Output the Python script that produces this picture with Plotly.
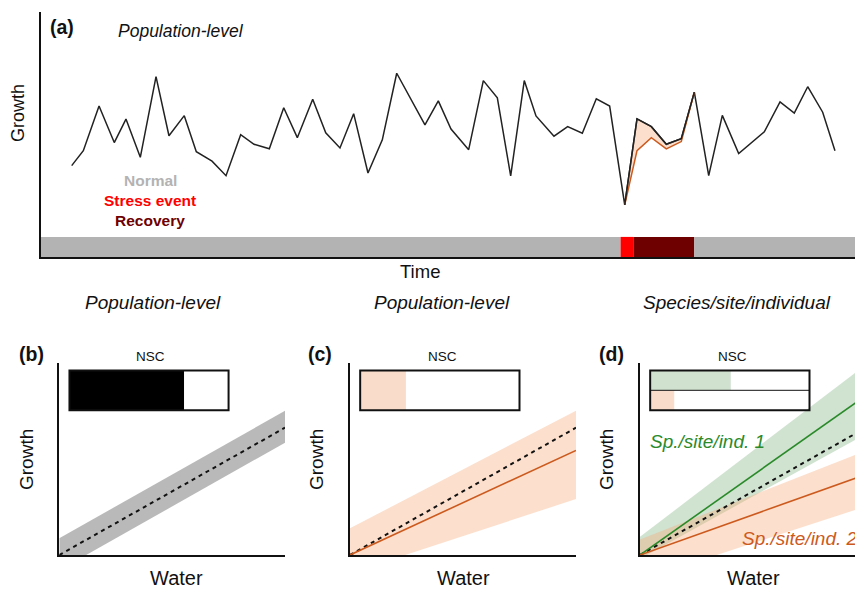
import plotly.graph_objects as go

W, H = 855, 592

# ---------------- Panel (a) data ----------------
time = [3.77, 5.20, 7.13, 9.00, 10.44, 12.20, 14.13, 15.72, 17.60, 19.08,
        21.01, 22.73, 24.53, 26.17, 28.05, 29.82, 31.49, 33.38, 34.98, 36.73,
        38.41, 40.17, 41.93, 43.70, 47.17, 48.81, 50.37, 52.54, 54.34, 56.06,
        57.70, 59.37, 60.81, 63.02, 64.70, 66.50, 68.22, 69.86, 71.71, 73.22,
        74.98, 76.82, 78.66, 80.26, 82.03, 83.70, 85.71, 87.22, 88.86, 90.79,
        92.54, 94.19, 96.03, 97.54]
growth = [37.3, 43.4, 61.6, 46.7, 56.3, 40.7, 73.6, 49.5, 57.7, 43.0,
          39.1, 33.2, 49.9, 46.0, 44.2, 60.9, 48.7, 64.4, 50.7, 44.5,
          58.5, 34.3, 47.8, 75.0, 53.9, 63.7, 52.2, 43.8, 72.0, 65.0,
          33.1, 72.0, 57.6, 49.3, 53.2, 50.5, 64.6, 61.6, 21.3, 56.4,
          53.2, 46.0, 48.3, 67.3, 33.2, 57.8, 42.2, 46.5, 51.1, 63.3,
          58.7, 69.5, 59.1, 43.4]
stress_time = [71.71, 73.22, 74.98, 76.82, 78.66, 80.26]
stress_expected = [21.3, 56.4, 53.2, 46.0, 48.3, 67.3]
stress_growth = [21.3, 43.4, 48.7, 44.1, 47.1, 67.3]

period_labels = ["Normal", "Stress event", "Recovery", "Normal"]
period_start = [0.0, 71.2, 72.77, 80.26]
period_end = [71.2, 72.77, 80.26, 100.0]
bar_height = 8.2

# ---------------- Panels (b)-(d) data ----------------
water = [0.0, 1.0]
reference = [0.0, 0.662]
b_upper = [0.087, 0.750]
b_lower = [-0.079, 0.584]
c_mean = [0.0, 0.544]
c_upper = [0.139, 0.750]
c_lower = [-0.094, 0.291]
d1_mean = [0.0, 0.83]
d1_upper = [0.095, 0.99]
d1_lower = [-0.02, 0.63]
d2_mean = [0.0, 0.419]
d2_upper = [0.08, 0.543]
d2_lower = [-0.13, 0.253]
nsc_b = 0.72
nsc_c = 0.287
nsc_d1 = 0.506
nsc_d2 = 0.151

# ---------------- styles ----------------
FONT = "Liberation Sans, Arial, sans-serif"
PERIOD_COLORS = {"Normal": "#b3b3b3", "Stress event": "#ff0000", "Recovery": "#6e0000"}
PEACH = "rgba(246,170,120,0.38)"
ORANGE = "#cc5a1e"
GREEN = "#2a8a2a"
GREEN_BAND = "rgba(100,160,100,0.3)"
GRAY_BAND = "#b9b9b9"
DOT = "4px,4px"


def px(x):
    return x / W


def py(y):
    return 1 - y / H


fig = go.Figure()

# Panel (a)
fig.add_trace(go.Scatter(x=time, y=growth, mode="lines",
                         line=dict(color="#222", width=1.5), xaxis="x", yaxis="y",
                         showlegend=False, hoverinfo="skip"))
fig.add_trace(go.Scatter(x=stress_time, y=stress_expected, mode="lines",
                         line=dict(color="rgba(0,0,0,0)", width=0), xaxis="x", yaxis="y",
                         showlegend=False, hoverinfo="skip"))
fig.add_trace(go.Scatter(x=stress_time, y=stress_growth, mode="lines",
                         line=dict(color=ORANGE, width=1.5), fill="tonexty", fillcolor=PEACH,
                         xaxis="x", yaxis="y", showlegend=False, hoverinfo="skip"))
# redraw black segment on top
fig.add_trace(go.Scatter(x=stress_time, y=stress_expected, mode="lines",
                         line=dict(color="#222", width=1.5), xaxis="x", yaxis="y",
                         showlegend=False, hoverinfo="skip"))


def band(ax, ay, lower, upper, color):
    fig.add_trace(go.Scatter(x=water, y=lower, mode="lines", line=dict(width=0, color="rgba(0,0,0,0)"),
                             xaxis=ax, yaxis=ay, showlegend=False, hoverinfo="skip"))
    fig.add_trace(go.Scatter(x=water, y=upper, mode="lines", line=dict(width=0, color="rgba(0,0,0,0)"),
                             fill="tonexty", fillcolor=color,
                             xaxis=ax, yaxis=ay, showlegend=False, hoverinfo="skip"))


def line(ax, ay, yv, color, dash=None, width=1.6):
    fig.add_trace(go.Scatter(x=water, y=yv, mode="lines",
                             line=dict(color=color, width=width, dash=dash),
                             xaxis=ax, yaxis=ay, showlegend=False, hoverinfo="skip"))


# Panel (b)
band("x2", "y2", b_lower, b_upper, GRAY_BAND)
line("x2", "y2", reference, "#111", DOT, 2)
# Panel (c)
band("x3", "y3", c_lower, c_upper, PEACH)
line("x3", "y3", reference, "#111", DOT, 2)
line("x3", "y3", c_mean, ORANGE)
# Panel (d)
band("x4", "y4", d1_lower, d1_upper, GREEN_BAND)
band("x4", "y4", d2_lower, d2_upper, PEACH)
line("x4", "y4", reference, "#111", DOT, 2)
line("x4", "y4", d1_mean, GREEN)
line("x4", "y4", d2_mean, ORANGE)

shapes = []
for lab, s, e in zip(period_labels, period_start, period_end):
    shapes.append(dict(type="rect", xref="x", yref="y", x0=s, x1=e, y0=0, y1=bar_height,
                       fillcolor=PERIOD_COLORS[lab], line=dict(width=0), layer="below"))

BX0, BX1, BY0, BY1 = 0.045, 0.75, 0.753, 0.96


def nsc_box(ax, ay, fracs, colors):
    n = len(fracs)
    hgt = (BY1 - BY0) / n
    for i, (f, c) in enumerate(zip(fracs, colors)):
        y1 = BY1 - i * hgt
        y0 = y1 - hgt
        shapes.append(dict(type="rect", xref=ax, yref=ay, x0=BX0, x1=BX0 + f * (BX1 - BX0),
                           y0=y0, y1=y1, fillcolor=c, line=dict(width=0), layer="above"))
        if i > 0:
            shapes.append(dict(type="line", xref=ax, yref=ay, x0=BX0, x1=BX1, y0=y1, y1=y1,
                               line=dict(color="#111", width=1), layer="above"))
    shapes.append(dict(type="rect", xref=ax, yref=ay, x0=BX0, x1=BX1, y0=BY0, y1=BY1,
                       fillcolor="rgba(0,0,0,0)", line=dict(color="#111", width=2), layer="above"))


nsc_box("x2", "y2", [nsc_b], ["#000000"])
nsc_box("x3", "y3", [nsc_c], ["#fadcca"])
nsc_box("x4", "y4", [nsc_d1, nsc_d2], ["#d0e1d0", "#fadcca"])

ann = []


def text(x, y, s, size, color="#111", bold=False, italic=False, angle=0, anchor="center"):
    t = s
    if bold:
        t = "<b>" + t + "</b>"
    if italic:
        t = "<i>" + t + "</i>"
    ann.append(dict(x=px(x), y=py(y), xref="paper", yref="paper", text=t, showarrow=False,
                    textangle=angle, xanchor=anchor, yanchor="middle",
                    font=dict(family=FONT, size=size, color=color)))


text(62, 27, "(a)", 19.5, bold=True)
text(181, 31, "Population-level", 17.5, italic=True)
text(18, 113, "Growth", 18, angle=-90)
text(420, 271, "Time", 18.5)
text(150, 180, "Normal", 15.5, color=PERIOD_COLORS["Normal"], bold=True)
text(150, 201, "Stress event", 15.5, color=PERIOD_COLORS["Stress event"], bold=True)
text(150, 221, "Recovery", 15.5, color=PERIOD_COLORS["Recovery"], bold=True)

text(153, 302, "Population-level", 19, italic=True)
text(442, 302, "Population-level", 19, italic=True)
text(737, 302, "Species/site/individual", 19, italic=True)

for lab, lx, gx, wx, nx in [("(b)", 31, 27, 176, 150), ("(c)", 320, 317, 463, 442),
                            ("(d)", 611, 607, 753, 732)]:
    text(lx, 354, lab, 19.5, bold=True)
    text(gx, 460, "Growth", 19, angle=-90)
    text(wx, 578, "Water", 20)
    text(nx, 356, "NSC", 13.5)

text(648, 441, "Sp./site/ind. 1", 19, color=GREEN, italic=True, anchor="left")
text(740, 538, "Sp./site/ind. 2", 19, color=ORANGE, italic=True, anchor="left")


def axis(domain, rng):
    return dict(domain=domain, range=rng, showline=True, linecolor="#111", linewidth=2,
                showgrid=False, zeroline=False, showticklabels=False, ticks="", fixedrange=True)


xa = axis([px(41), 1], [0, 100])
ya = axis([py(257), py(12)], [0, 100])
yb = [py(555), py(362.7)]

layout = dict(
    width=W, height=H, autosize=False,
    margin=dict(l=0, r=0, t=0, b=0),
    paper_bgcolor="white", plot_bgcolor="rgba(0,0,0,0)",
    xaxis=xa, yaxis=ya,
    xaxis2=axis([px(59.3), px(285)], [0, 1]), yaxis2=axis(yb, [0, 1]),
    xaxis3=axis([px(350), px(576)], [0, 1]), yaxis3=axis(yb, [0, 1]),
    xaxis4=axis([px(640), 1], [0, 215 / 226]), yaxis4=axis(yb, [0, 1]),
    shapes=shapes, annotations=ann, showlegend=False,
)
layout["xaxis"]["anchor"] = "y"
layout["yaxis"]["anchor"] = "x"
for i in (2, 3, 4):
    layout[f"xaxis{i}"]["anchor"] = f"y{i}"
    layout[f"yaxis{i}"]["anchor"] = f"x{i}"

fig.update_layout(**layout)
fig.write_html("out.html", config={"displayModeBar": False},
               post_script="document.body.style.margin='0';document.body.style.overflow='hidden';")
